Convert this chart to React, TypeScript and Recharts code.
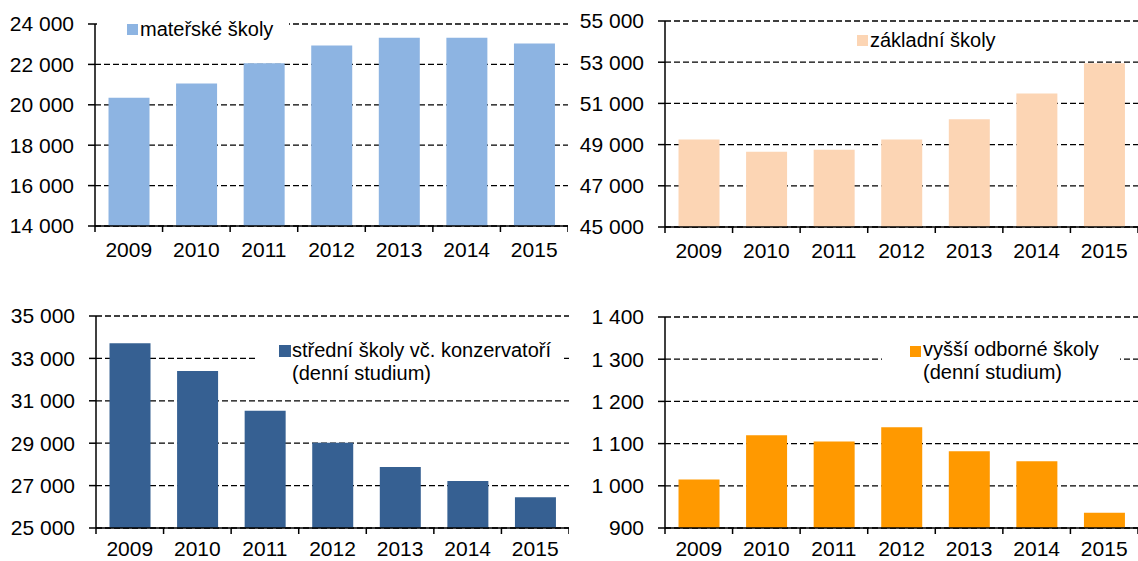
import { BarChart, Bar, XAxis, YAxis, CartesianGrid } from 'recharts';

// Roky
const ROKY = ['2009', '2010', '2011', '2012', '2013', '2014', '2015'];

// Hodnoty jednotlivých řad
const MATERSKE = [20350, 21050, 22060, 22940, 23320, 23320, 23040];
const ZAKLADNI = [49250, 48650, 48750, 49250, 50230, 51480, 52950];
const STREDNI = [33720, 32400, 30530, 29020, 27880, 27220, 26450];
const VYSSI = [1015, 1120, 1105, 1139, 1082, 1058, 936];

// Osy
const TICKY_MS = [14000, 16000, 18000, 20000, 22000, 24000];
const TICKY_ZS = [45000, 47000, 49000, 51000, 53000, 55000];
const TICKY_SS = [25000, 27000, 29000, 31000, 33000, 35000];
const TICKY_VOS = [900, 1000, 1100, 1200, 1300, 1400];

const FONT = '"Liberation Sans", Arial, sans-serif';

const formatCislo = (v: number) => String(v).replace(/\B(?=(\d{3})+(?!\d))/g, ' ');

const sestavData = (hodnoty: number[]) => ROKY.map((rok, i) => ({ rok, hodnota: hodnoty[i] }));

// tick osy X: popisek uprostřed, čárky na hranicích kategorií
const XTick = ({ x, y, payload, index, band, count, posun }: any) => (
  <g>
    <line x1={x - band / 2} y1={y} x2={x - band / 2} y2={y + 6} stroke="#000" strokeWidth={1.5} />
    {index === count - 1 && (
      <line x1={x + band / 2} y1={y} x2={x + band / 2} y2={y + 6} stroke="#000" strokeWidth={1.5} />
    )}
    <text x={x} y={y + posun} textAnchor="middle" fontSize={21} fontFamily={FONT} fill="#000">
      {payload.value}
    </text>
  </g>
);

interface PanelProps {
  hodnoty: number[];
  ticky: number[];
  barva: string;
  left: number;
  top: number;
  width: number;
  height: number;
  yWidth: number;
  mTop: number;
  mBottom: number;
  posun: number;
}

const Panel = ({ hodnoty, ticky, barva, left, top, width, height, yWidth, mTop, mBottom, posun }: PanelProps) => {
  const plotW = width - yWidth;
  const band = plotW / ROKY.length;
  return (
    <div style={{ position: 'absolute', left, top }}>
      <BarChart
        width={width}
        height={height}
        data={sestavData(hodnoty)}
        margin={{ top: mTop, right: 0, bottom: mBottom, left: 0 }}
        barCategoryGap="20%"
      >
        <CartesianGrid vertical={false} stroke="#000" strokeWidth={1.3} strokeDasharray="6 3" />
        <XAxis
          dataKey="rok"
          height={30}
          tickSize={0}
          tickMargin={0}
          axisLine={{ stroke: '#000', strokeWidth: 1.5 }}
          tickLine={false}
          interval={0}
          tick={<XTick band={band} count={ROKY.length} posun={posun} />}
        />
        <YAxis
          width={yWidth}
          domain={[ticky[0], ticky[ticky.length - 1]]}
          ticks={ticky}
          interval={0}
          allowDataOverflow
          tickSize={7}
          tickMargin={14}
          tickFormatter={formatCislo}
          axisLine={{ stroke: '#000', strokeWidth: 1.5 }}
          tickLine={{ stroke: '#000', strokeWidth: 1.5 }}
          tick={{ fill: '#000', fontSize: 21, fontFamily: FONT }}
        />
        <Bar dataKey="hodnota" fill={barva} isAnimationActive={false} />
      </BarChart>
    </div>
  );
};

interface LegendaProps {
  box: { left: number; top: number; width: number; height: number };
  ctverec: { left: number; top: number; size: number };
  textLeft: number;
  textTop: number;
  radky: string[];
  barva: string;
}

const Legenda = ({ box, ctverec, textLeft, textTop, radky, barva }: LegendaProps) => (
  <>
    <div style={{ position: 'absolute', ...box, background: '#fff' }} />
    <div
      style={{
        position: 'absolute',
        left: ctverec.left,
        top: ctverec.top,
        width: ctverec.size,
        height: ctverec.size,
        background: barva,
      }}
    />
    <div
      style={{
        position: 'absolute',
        left: textLeft,
        top: textTop,
        fontFamily: FONT,
        fontSize: 20,
        lineHeight: '23px',
        color: '#000',
        whiteSpace: 'nowrap',
      }}
    >
      {radky.map((r) => (
        <div key={r}>{r}</div>
      ))}
    </div>
  </>
);

const App = () => {
  return (
    <div style={{ position: 'absolute', left: 0, top: 0, width: 1138, height: 561, background: '#fff', overflow: 'hidden' }}>
      <Panel hodnoty={MATERSKE} ticky={TICKY_MS} barva="#8DB4E2" left={0} top={0} width={568} height={275} yWidth={95} mTop={24} mBottom={19} posun={31} />
      <Panel hodnoty={ZAKLADNI} ticky={TICKY_ZS} barva="#FCD5B4" left={568} top={0} width={570} height={275} yWidth={97} mTop={21} mBottom={18} posun={31} />
      <Panel hodnoty={STREDNI} ticky={TICKY_SS} barva="#366092" left={0} top={290} width={569} height={271} yWidth={96} mTop={26} mBottom={3} posun={28} />
      <Panel hodnoty={VYSSI} ticky={TICKY_VOS} barva="#FF9900" left={568} top={290} width={570} height={271} yWidth={97} mTop={27} mBottom={3} posun={28} />

      <Legenda
        box={{ left: 97, top: 12, width: 192, height: 30 }}
        ctverec={{ left: 127, top: 24, size: 11 }}
        textLeft={140}
        textTop={18}
        radky={['mateřské školy']}
        barva="#8DB4E2"
      />
      <Legenda
        box={{ left: 845, top: 28, width: 165, height: 26 }}
        ctverec={{ left: 857, top: 35, size: 11 }}
        textLeft={870}
        textTop={29}
        radky={['základní školy']}
        barva="#FCD5B4"
      />
      <Legenda
        box={{ left: 257, top: 336, width: 305, height: 52 }}
        ctverec={{ left: 279, top: 345, size: 12 }}
        textLeft={292}
        textTop={339}
        radky={['střední školy vč. konzervatoří', '(denní studium)']}
        barva="#366092"
      />
      <Legenda
        box={{ left: 882, top: 334, width: 238, height: 52 }}
        ctverec={{ left: 910, top: 346, size: 11 }}
        textLeft={923}
        textTop={338}
        radky={['vyšší odborné školy', '(denní studium)']}
        barva="#FF9900"
      />
    </div>
  );
};

export default App;
